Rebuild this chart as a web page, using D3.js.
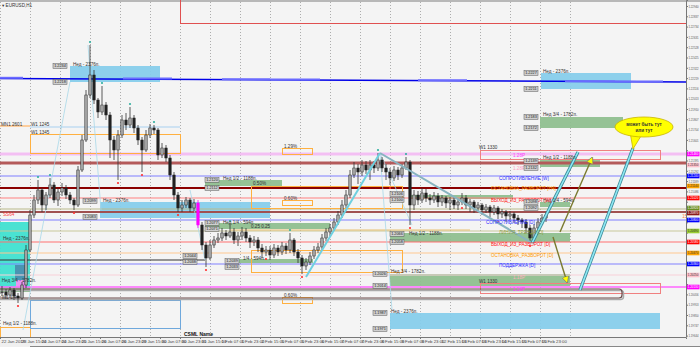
<!DOCTYPE html>
<html>
<head>
<meta charset="utf-8">
<script src="https://cdn.jsdelivr.net/npm/d3@7"></script>
<style>
  html, body { margin: 0; padding: 0; background: #f4f4f4; }
  svg { display: block; font-family: "Liberation Sans", "DejaVu Sans", sans-serif; }
</style>
</head>
<body>
<svg id="chart" width="700" height="347"></svg>
<script>
// EURUSD H1 candles (open = previous close)
const closes = [1.2008,1.2005,1.2010,1.2004,1.2002,1.2015,1.2050,1.2085,1.2100,1.2110,
  1.2095,1.2105,1.2115,1.2100,1.2108,1.2112,1.2105,1.2100,1.2095,1.2130,
  1.2160,1.2205,1.2225,1.2200,1.2188,1.2195,1.2185,1.2160,1.2150,1.2165,
  1.2180,1.2175,1.2182,1.2172,1.2160,1.2150,1.2165,1.2172,1.2170,1.2145,
  1.2152,1.2142,1.2125,1.2105,1.2092,1.2095,1.2100,1.2092,1.2097,1.2075,
  1.2055,1.2042,1.2055,1.2060,1.2062,1.2067,1.2064,1.2068,1.2060,1.2064,
  1.2068,1.2062,1.2058,1.2060,1.2052,1.2048,1.2050,1.2045,1.2052,1.2048,
  1.2054,1.2050,1.2060,1.2048,1.2042,1.2034,1.2038,1.2044,1.2050,1.2053,
  1.2062,1.2068,1.2072,1.2078,1.2085,1.2095,1.2105,1.2125,1.2132,1.2128,
  1.2135,1.2130,1.2135,1.2132,1.2140,1.2132,1.2128,1.2122,1.2130,1.2125,
  1.2132,1.2138,1.2095,1.2105,1.2100,1.2107,1.2102,1.2100,1.2104,1.2098,
  1.2102,1.2097,1.2100,1.2095,1.2098,1.2102,1.2095,1.2098,1.2092,1.2095,
  1.2090,1.2093,1.2088,1.2092,1.2086,1.2088,1.2084,1.2086,1.2082,1.2080,
  1.2078,1.2072,1.2062,1.2072,1.2078,1.2082,1.2085];
const highs = [1.2014,1.2011,1.2013,1.2012,1.2007,1.2018,1.2055,1.2090,1.2105,1.2120,
  1.2112,1.2108,1.2122,1.2118,1.2112,1.2117,1.2115,1.2108,1.2102,1.2134,
  1.2165,1.2210,1.2255,1.2230,1.2202,1.2214,1.2198,1.2188,1.2164,1.2170,
  1.2185,1.2187,1.2193,1.2185,1.2175,1.2163,1.2170,1.2176,1.2175,1.2172,
  1.2157,1.2155,1.2145,1.2128,1.2108,1.2100,1.2103,1.2102,1.2101,1.2100,
  1.2078,1.2058,1.2060,1.2064,1.2067,1.2072,1.2070,1.2076,1.2072,1.2068,
  1.2073,1.2072,1.2065,1.2064,1.2063,1.2056,1.2054,1.2054,1.2056,1.2055,
  1.2058,1.2057,1.2067,1.2062,1.2051,1.2045,1.2042,1.2048,1.2054,1.2057,
  1.2066,1.2072,1.2076,1.2082,1.2089,1.2100,1.2110,1.2130,1.2138,1.2136,
  1.2140,1.2139,1.2140,1.2139,1.2147,1.2143,1.2136,1.2132,1.2134,1.2133,
  1.2136,1.2143,1.2140,1.2110,1.2109,1.2112,1.2111,1.2106,1.2108,1.2107,
  1.2105,1.2104,1.2103,1.2103,1.2101,1.2107,1.2105,1.2101,1.2100,1.2098,
  1.2097,1.2096,1.2095,1.2095,1.2094,1.2091,1.2090,1.2089,1.2088,1.2085,
  1.2082,1.2081,1.2075,1.2076,1.2082,1.2086,1.2088];
const lows = [1.2004,1.2001,1.2002,1.2000,1.1997,1.2000,1.2012,1.2048,1.2082,1.2096,
  1.2088,1.2090,1.2102,1.2097,1.2094,1.2104,1.2101,1.2096,1.2090,1.2093,
  1.2128,1.2158,1.2202,1.2196,1.2182,1.2185,1.2180,1.2142,1.2140,1.2120,
  1.2162,1.2170,1.2172,1.2167,1.2155,1.2128,1.2148,1.2162,1.2166,1.2140,
  1.2142,1.2138,1.2120,1.2100,1.2088,1.2088,1.2092,1.2088,1.2089,1.2072,
  1.2050,1.2033,1.2040,1.2052,1.2057,1.2059,1.2060,1.2062,1.2056,1.2054,
  1.2060,1.2058,1.2052,1.2054,1.2048,1.2042,1.2044,1.2040,1.2042,1.2044,
  1.2045,1.2046,1.2047,1.2044,1.2037,1.2026,1.2030,1.2035,1.2041,1.2047,
  1.2050,1.2059,1.2064,1.2069,1.2075,1.2082,1.2092,1.2102,1.2122,1.2116,
  1.2124,1.2126,1.2120,1.2127,1.2129,1.2128,1.2120,1.2115,1.2119,1.2120,
  1.2122,1.2130,1.2075,1.2090,1.2095,1.2097,1.2098,1.2095,1.2097,1.2093,
  1.2094,1.2092,1.2090,1.2091,1.2090,1.2095,1.2091,1.2088,1.2087,1.2089,
  1.2085,1.2087,1.2083,1.2085,1.2081,1.2082,1.2078,1.2080,1.2077,1.2075,
  1.2072,1.2067,1.2057,1.2059,1.2070,1.2075,1.2078];
const magentaBar = 49;

// fractal marks [bar, price]
const downFractals = [[4,1.1994],[18,1.2087],[29,1.2117],[35,1.2125],[44,1.2085],[51,1.2030],[66,1.2041],
  [75,1.2023],[97,1.2112],[102,1.2072],[115,1.2092],[124,1.2078],[132,1.2054]];
const upFractals = [[9,1.2123],[12,1.2125],[22,1.2258],[25,1.2217],[32,1.2196],[38,1.2178],[57,1.2079],
  [72,1.2070],[94,1.2150],[101,1.2146]];

const priceTicks = [1.22940,1.22837,1.22734,1.22631,1.22528,1.22425,1.22322,1.22219,1.22116,1.22013,
  1.21910,1.21807,1.21704,1.21601,1.21498,1.21395,1.21292,1.21189,1.21086,1.20983,
  1.20880,1.20777,1.20674,1.20571,1.20468,1.20365,1.20262,1.20159,1.20056,1.19953,
  1.19850,1.19747,1.19644];
const timeLabels = ["22 Jan 2018","23 Jan 15:00","24 Jan 07:00","24 Jan 23:00","25 Jan 15:00","26 Jan 07:00",
  "26 Jan 23:00","29 Jan 15:00","30 Jan 07:00","30 Jan 23:00","31 Jan 15:00","1 Feb 07:00","1 Feb 23:00",
  "2 Feb 15:00","5 Feb 07:00","5 Feb 23:00","6 Feb 15:00","7 Feb 07:00","7 Feb 23:00","8 Feb 15:00",
  "9 Feb 07:00","9 Feb 23:00","12 Feb 15:00","13 Feb 07:00","13 Feb 23:00","14 Feb 15:00","15 Feb 07:00",
  "15 Feb 23:00"];

// full width levels [price, colour, width]
const levels = [[1.2146,"#f3bff3",3],[1.2137,"#b45a5a",3],[1.2124,"#7f7fff",1],[1.2112,"#8b0000",2],
  [1.2102,"#ff8080",1],[1.2091,"#b9b98a",1],[1.2088,"#a05050",2],[1.2080,"#7f7fff",1],[1.2069,"#c8c89a",1],
  [1.2058,"#ff7070",1],[1.2047,"#ffc890",1],[1.2036,"#8080ff",1],[1.2025,"#f8d0d8",1],[1.2013,"#ff66ff",1.5]];
// price tags on the right axis [price, colour]
const axisTags = [[1.2146,"#ff00ff"],[1.2135,"#ffc0cb"],[1.2124,"#0000ff"],[1.2114,"#ffa500"],[1.2102,"#ff0000"],
  [1.2092,"#6b8e23"],[1.2087,"#8b1a1a"],[1.2080,"#0000ff"],[1.2069,"#9acd32"],[1.2058,"#ff0000"],
  [1.2047,"#ffa500"],[1.2036,"#0000ff"],[1.2025,"#ffc0cb"],[1.2013,"#ff00ff"]];
// partial lines [bar0, bar1, price, colour, width]
const segments = [[0,7.5,1.2174,"#ffc080",1.5],[7.5,45,1.2173,"#a8d0f0",1],[0,51.25,1.2040,"#333333",1],
  [57.5,117.5,1.2070,"#e8c070",1],
  [0,5.75,1.22222,"#6a6aff",2],[30.75,43,1.22214,"#6a6aff",2],[55.5,67.5,1.22208,"#6a6aff",2],
  [67.5,80,1.22206,"#6a6aff",2],[104.5,116.75,1.22197,"#6a6aff",2],[141.25,153.75,1.22188,"#6a6aff",2],
  [153.75,165.75,1.22186,"#6a6aff",2]];
const blueTrend = [[0,1.22215],[171.5,1.2218]];

// filled zones [bar0, bar1, priceTop, priceBottom, colour]
const zones = [[17.5,40,1.2234,1.2218,"#87ceeb"],[25,67.5,1.2098,1.2082,"#87ceeb"],
  [135.25,157.75,1.2227,1.2211,"#87ceeb"],[97.5,165,1.1987,1.1971,"#87ceeb"],
  [0,7.5,1.2078,1.2013,"#40e0d0"],[3.75,6.75,1.2035,1.2020,"#4a8fb0"],[4,6.5,1.2020,1.2010,"#f090f0"],
  [51.25,70.5,1.2120,1.2114,"#8fbf8f"],[51.25,82.5,1.2077,1.2071,"#8fbf8f"],[57.5,78.25,1.2041,1.2037,"#8fbf8f"],
  [97.5,142.5,1.2067,1.2058,"#8fbf8f"],[97.5,142.5,1.2026,1.2014,"#8fbf8f"],[135,155.75,1.2183,1.2172,"#8fbf8f"],
  [135,150,1.2140,1.2133,"#8fbf8f"],[135,142.5,1.2098,1.2093,"#8fbf8f"],[0,7.5,1.2013,1.2008,"#8fbf8f"],
  [102.5,128.25,1.2105,1.2101,"#8fbf8f"]];
// outlined boxes [bar0, bar1, priceTop, priceBottom, colour]
const frames = [[7.5,45,1.2166,1.2147,"#ffb040"],[62.75,100.5,1.2114,1.2092,"#ffb040"],
  [70.5,78,1.2152,1.2146,"#ffb040"],[70.5,78,1.2100,1.2095,"#ffb040"],[62.75,100.5,1.2050,1.2028,"#ffb040"],
  [70.5,78,1.2003,1.1997,"#ffb040"],[0,7.5,1.1973,1.1962,"#ffb040"],[7.5,45,1.2000,1.1972,"#6fa8dc"],
  [120,165,1.2150,1.2141,"#f08080"],[120,165,1.2017,1.2007,"#f08080"],[45,180,1.2320,1.2277,"#e05050"]];
const roundBox = [-2,155.5,1.2011,1.2002];

// grey price tags [bar of right edge, price]
const priceTags = [[17,1.2234],[17,1.2218],[24.5,1.2099],[24.5,1.2083],[55,1.2120],[55,1.2112],[55,1.2077],
  [55,1.2071],[49.5,1.2044],[49.5,1.2038],[60,1.2039],[60,1.2033],[101.25,1.2106],[101.25,1.2100],
  [101.25,1.2066],[101.25,1.2058],[97,1.2026],[97,1.2014],[97,1.1987],[97,1.1971],[134.75,1.2227],
  [134.75,1.2211],[134.75,1.2183],[134.75,1.2172],[134.75,1.2139],[134.75,1.2132],[134.75,1.2098],
  [134.75,1.2092]];

// text notes [bar, price, text, colour]
const notes = [[18,1.2236,"Нед - 2376п.","#333"],[25.5,1.2100,"Нед - 2376п.","#333"],[0.5,1.2062,"Нед - 2376п.","#333"],
  [135.5,1.2229,"Нед - 2376п.","#333"],[97.5,1.1989,"Нед - 2376п.","#333"],[135.5,1.2186,"Нед 3/4 - 1782п.","#333"],
  [97.5,1.2029,"Нед 3/4 - 1782п.","#333"],[135.5,1.2143,"Нед 1/2 - 1188п.","#333"],[102,1.2067,"Нед 1/2 - 1188п.","#333"],
  [55.5,1.2122,"Нед 1/2 - 1188п.","#333"],[135.5,1.2100,"Нед 1/4 - 594п.","#333"],[55.5,1.2078,"Нед 1/4 - 594п.","#333"],
  [60.5,1.2042,"1/4 - 594п.","#333"],[0.2,1.2020,"Нед 3/4 - 1782п.","#333"],[0.2,1.2003,"W1 1/4","#333"],
  [0.5,1.1977,"Нед 1/2 - 1188п.","#333"],[0,1.2176,"MN1 2601","#333"],[7.5,1.2176,"W1 1245","#333"],
  [7.5,1.2168,"W1 1345","#333"],[0.5,1.2086,"SS64","#ff4040"],[70.75,1.2154,"1.29%","#333"],
  [70.75,1.2102,"0.60%","#333"],[70.75,1.2005,"0.60%","#333"],[63,1.2117,"0.50%","#333"],
  [62.5,1.2074,"0.25 0.25","#333"],[119.5,1.2153,"W1 1330","#333"],[119.5,1.2019,"W1 1330","#333"],
  [128,1.2145,"1.28P","#ff40ff"],[128,1.2132,"1.28P","#ffa0c0"],[128,1.2023,"1.18P","#ffb0c0"],
  [128,1.2011,"1.18P","#ff40ff"],[124.5,1.2122,"СОПРОТИВЛЕНИЕ [W]","#3030ff"],
  [122.5,1.2112,"ОСТАНОВКА_РАЗВОРОТ [H4]","#ff9900"],[122.5,1.2100,"ВЫХОД_ИЗ_РАЗВОРОТ [W]","#ff2020"],
  [121.25,1.2078,"СОПРОТИВЛЕНИЕ [D]","#3030ff"],[124.5,1.2068,"ЛИНИЯ_ТРЕНДА [D]","#8a9a40"],
  [122.5,1.2056,"ВЫХОД_ИЗ_РАЗВОРОТ [D]","#ff2020"],[122.5,1.2045,"ОСТАНОВКА_РАЗВОРОТ [D]","#ff9900"],
  [124.5,1.2035,"ПОДДЕРЖКА [D]","#3030ff"],[170.3,1.2084,"15","#ff8040"]];

const zigzag = [[76.5,1.2023],[95,1.2147],[133,1.2057]];
const cyanArrows = [[133,1.2057,144.5,1.2148],[145,1.2010,158.25,1.2152]];
const oliveArrows = [[140,1.2068,148,1.2142],[138.25,1.2063,141.75,1.2018]];
const thinLines = [[5.75,1.1970,17.5,1.2218],[22,1.2255,25.25,1.2090],[95,1.2147,98,1.1990],
  [95,1.2147,103,1.2075],[47.5,1.2110,51.25,1.2040]];
const callout = {center: [161,1.2173], tip: [158.25,1.2151], lines: ["может быть тут", "или тут"]};

// ---- layout
const plotR = 686, plotB = 337;
const svg = d3.select("#chart");
const x = d3.scaleLinear().domain([0, 171.5]).range([0, plotR]);
const y = d3.scaleLinear().domain([1.2300, 1.1963]).range([0, plotB]);
const bx = i => x(i + 0.5);

svg.append("defs").append("clipPath").attr("id", "plot")
  .append("rect").attr("width", plotR).attr("height", plotB);
svg.select("defs").append("marker").attr("id", "head")
  .attr("viewBox", "0 0 10 10").attr("refX", 8).attr("refY", 5)
  .attr("markerWidth", 5).attr("markerHeight", 5).attr("orient", "auto")
  .append("path").attr("d", "M0,0L10,5L0,10z").attr("fill", "#ffff00").attr("stroke", "#777").attr("stroke-width", 1);

svg.append("rect").attr("width", 700).attr("height", 347).attr("fill", "#f4f4f4");
svg.append("rect").attr("width", 700).attr("height", 2).attr("fill", "#b8b8b8");

const g = svg.append("g").attr("clip-path", "url(#plot)");

// vertical dotted grid
g.selectAll(".grid").data(d3.range(0, 143, 7.5)).join("line")
  .attr("x1", d => x(d) + 0.5).attr("x2", d => x(d) + 0.5).attr("y1", 2).attr("y2", plotB)
  .attr("stroke", "#9a9a9a").attr("stroke-width", 0.8).attr("stroke-dasharray", "1,2");

// zones
g.selectAll(".zone").data(zones).join("rect")
  .attr("x", d => x(d[0])).attr("width", d => x(d[1]) - x(d[0]))
  .attr("y", d => y(d[2])).attr("height", d => y(d[3]) - y(d[2]))
  .attr("fill", d => d[4]).attr("opacity", 0.95);

// levels
g.selectAll(".lvl").data(levels).join("line")
  .attr("x1", 0).attr("x2", plotR).attr("y1", d => y(d[0])).attr("y2", d => y(d[0]))
  .attr("stroke", d => d[1]).attr("stroke-width", d => d[2]);
g.append("line").attr("x1", x(blueTrend[0][0])).attr("y1", y(blueTrend[0][1]))
  .attr("x2", x(blueTrend[1][0])).attr("y2", y(blueTrend[1][1]))
  .attr("stroke", "#0000e8").attr("stroke-width", 1.5);
g.selectAll(".seg").data(segments).join("line")
  .attr("x1", d => x(d[0])).attr("x2", d => x(d[1])).attr("y1", d => y(d[2])).attr("y2", d => y(d[2]))
  .attr("stroke", d => d[3]).attr("stroke-width", d => d[4]);

// frames
g.selectAll(".frame").data(frames).join("rect")
  .attr("x", d => x(d[0]) + 0.5).attr("width", d => x(d[1]) - x(d[0]))
  .attr("y", d => y(d[2]) + 0.5).attr("height", d => y(d[3]) - y(d[2]))
  .attr("fill", "none").attr("stroke", d => d[4]).attr("stroke-width", 1);
g.append("rect").attr("x", x(roundBox[0]) + 1.5).attr("y", y(roundBox[2]) + 1.5)
  .attr("width", x(roundBox[1]) - x(roundBox[0])).attr("height", y(roundBox[3]) - y(roundBox[2]))
  .attr("rx", 3).attr("fill", "none").attr("stroke", "#aaa").attr("stroke-width", 1.5);
g.append("rect").attr("x", x(roundBox[0])).attr("y", y(roundBox[2]))
  .attr("width", x(roundBox[1]) - x(roundBox[0])).attr("height", y(roundBox[3]) - y(roundBox[2]))
  .attr("rx", 3).attr("fill", "none").attr("stroke", "#6a4a4a").attr("stroke-width", 1.2);

// thin helper lines
g.selectAll(".thin").data(thinLines).join("line")
  .attr("x1", d => x(d[0])).attr("y1", d => y(d[1])).attr("x2", d => x(d[2])).attr("y2", d => y(d[3]))
  .attr("stroke", "#a8d8e8").attr("stroke-width", 0.8);

// candles
const bars = closes.map((c, i) => {
  const o = i ? closes[i - 1] : c;
  return {i, o, c, h: Math.max(highs[i], o, c), l: Math.min(lows[i], o, c)};
});
const cg = g.append("g");
cg.selectAll(".wick").data(bars).join("line")
  .attr("x1", d => bx(d.i)).attr("x2", d => bx(d.i)).attr("y1", d => y(d.h)).attr("y2", d => y(d.l))
  .attr("stroke", d => d.i === magentaBar ? "#ff00ff" : "#333").attr("stroke-width", 0.8);
cg.selectAll(".body").data(bars).join("rect")
  .attr("x", d => bx(d.i) - 1.2).attr("width", 2.4)
  .attr("y", d => y(Math.max(d.o, d.c))).attr("height", d => Math.max(0.8, Math.abs(y(d.o) - y(d.c))))
  .attr("fill", d => d.i === magentaBar ? "#ff00ff" : (d.c >= d.o ? "#a8a8a8" : "#222"))
  .attr("stroke", d => d.i === magentaBar ? "#ff00ff" : "#222").attr("stroke-width", 0.5);

// fractals
g.selectAll(".fdn").data(downFractals).join("circle")
  .attr("cx", d => bx(d[0])).attr("cy", d => y(d[1])).attr("r", 1.1).attr("fill", "#ff3030");
g.selectAll(".fup").data(upFractals).join("circle")
  .attr("cx", d => bx(d[0])).attr("cy", d => y(d[1])).attr("r", 1.1).attr("fill", "#30b0a0");

// zigzag
g.append("line").attr("x1", x(zigzag[0][0])).attr("y1", y(zigzag[0][1]))
  .attr("x2", x(zigzag[1][0])).attr("y2", y(zigzag[1][1])).attr("stroke", "#6fd0e0").attr("stroke-width", 2);
g.append("line").attr("x1", x(zigzag[1][0])).attr("y1", y(zigzag[1][1]))
  .attr("x2", x(zigzag[2][0])).attr("y2", y(zigzag[2][1])).attr("stroke", "#88b4c0").attr("stroke-width", 2);

// projected moves
cyanArrows.forEach(d => {
  g.append("line").attr("x1", x(d[0])).attr("y1", y(d[1])).attr("x2", x(d[2])).attr("y2", y(d[3]))
    .attr("stroke", "#3a8a98").attr("stroke-width", 3.2);
  g.append("line").attr("x1", x(d[0])).attr("y1", y(d[1])).attr("x2", x(d[2])).attr("y2", y(d[3]))
    .attr("stroke", "#8fe8f4").attr("stroke-width", 1.6);
});
g.selectAll(".olive").data(oliveArrows).join("line")
  .attr("x1", d => x(d[0])).attr("y1", d => y(d[1])).attr("x2", d => x(d[2])).attr("y2", d => y(d[3]))
  .attr("stroke", "#7a7a30").attr("stroke-width", 1.4).attr("marker-end", "url(#head)");

// notes
g.selectAll(".note").data(notes).join("text")
  .attr("x", d => x(d[0]) + 1).attr("y", d => y(d[1]) + 1.8)
  .attr("font-size", 4.6).attr("fill", d => d[3]).text(d => d[2]);

// grey price tags
const tg = g.selectAll(".ptag").data(priceTags).join("g")
  .attr("transform", d => `translate(${x(d[0]) - 15},${y(d[1]) - 2.3})`);
tg.append("rect").attr("width", 14).attr("height", 4.6).attr("fill", "#cfcfcf").attr("stroke", "#555").attr("stroke-width", 0.5);
tg.append("text").attr("x", 7).attr("y", 3.6).attr("text-anchor", "middle").attr("font-size", 3.8)
  .attr("fill", "#222").text(d => d[1].toFixed(4));

// callout
const cx = x(callout.center[0]), cy = y(callout.center[1]);
g.append("path")
  .attr("d", `M${cx - 14},${cy + 5}L${x(callout.tip[0])},${y(callout.tip[1])}L${cx - 3},${cy + 9}Z`)
  .attr("fill", "#ffff00").attr("stroke", "#c8b400").attr("stroke-width", 0.8);
g.append("ellipse").attr("cx", cx).attr("cy", cy).attr("rx", 29).attr("ry", 10)
  .attr("fill", "#ffff00").attr("stroke", "#c8b400").attr("stroke-width", 0.8);
g.append("path").attr("d", `M${cx - 13.5},${cy + 5.5}L${cx - 3.5},${cy + 8.5}`)
  .attr("stroke", "#ffff00").attr("stroke-width", 1.5);
g.selectAll(".cl").data(callout.lines).join("text")
  .attr("x", cx).attr("y", (d, i) => cy - 1 + i * 6).attr("text-anchor", "middle")
  .attr("font-size", 4.6).attr("font-weight", "bold").attr("fill", "#333").text(d => d);

// chart caption and indicator name
svg.append("text").attr("x", 2).attr("y", 7).attr("font-size", 4.6).attr("fill", "#333").text("▾ EURUSD,H1");
svg.append("text").attr("x", x(46)).attr("y", y(1.1966) + 2).attr("font-size", 5).attr("font-weight", "bold")
  .attr("fill", "#111").text("CSML Name");

// right price axis; tick labels hidden under a price tag are skipped
svg.append("rect").attr("x", plotR).attr("y", 2).attr("width", 14).attr("height", plotB).attr("fill", "#f4f4f4");
const freeTicks = priceTicks.filter(p => !axisTags.some(t => Math.abs(y(t[0]) - y(p)) < 4.5));
const ay = svg.append("g").attr("transform", `translate(${plotR},0)`)
  .call(d3.axisRight(y).tickValues(priceTicks).tickFormat(d => freeTicks.includes(d) ? d3.format(".5f")(d) : "")
    .tickSize(2).tickPadding(0.5));
ay.attr("font-size", 3.8).attr("font-family", "Liberation Sans, sans-serif");
ay.select(".domain").attr("stroke", "#777");
ay.selectAll(".tick line").attr("stroke", "#777");
ay.selectAll(".tick text").attr("fill", "#555")
  .attr("textLength", d => freeTicks.includes(d) ? 10 : null).attr("lengthAdjust", "spacingAndGlyphs");

const tagG = svg.selectAll(".atag").data(axisTags).join("g")
  .attr("transform", d => `translate(${plotR + 1},${y(d[0]) - 2.3})`);
tagG.append("rect").attr("width", 12.5).attr("height", 4.6).attr("fill", d => d[1]);
tagG.append("text").attr("x", 0.8).attr("y", 3.6).attr("font-size", 3.8)
  .attr("textLength", 10.5).attr("lengthAdjust", "spacingAndGlyphs")
  .attr("fill", d => (d[1] === "#ffc0cb" || d[1] === "#9acd32" || d[1] === "#ffa500") ? "#333" : "#fff")
  .text(d => d[0].toFixed(5));

// bottom time axis
svg.append("rect").attr("x", 0).attr("y", plotB).attr("width", 700).attr("height", 10).attr("fill", "#f0f0f0");
const ax = svg.append("g").attr("transform", `translate(0,${plotB})`)
  .call(d3.axisBottom(x).tickValues(timeLabels.map((d, i) => i * 5)).tickFormat((d, i) => timeLabels[i])
    .tickSize(2).tickPadding(1));
ax.attr("font-size", 4.3).attr("font-family", "Liberation Sans, sans-serif");
ax.select(".domain").attr("stroke", "#777");
ax.selectAll(".tick line").attr("stroke", "#777");
ax.selectAll(".tick text").attr("text-anchor", "start").attr("dx", 1).attr("fill", "#444");
svg.append("line").attr("x1", 30).attr("x2", 700).attr("y1", 346.5).attr("y2", 346.5).attr("stroke", "#888");
</script>
</body>
</html>
